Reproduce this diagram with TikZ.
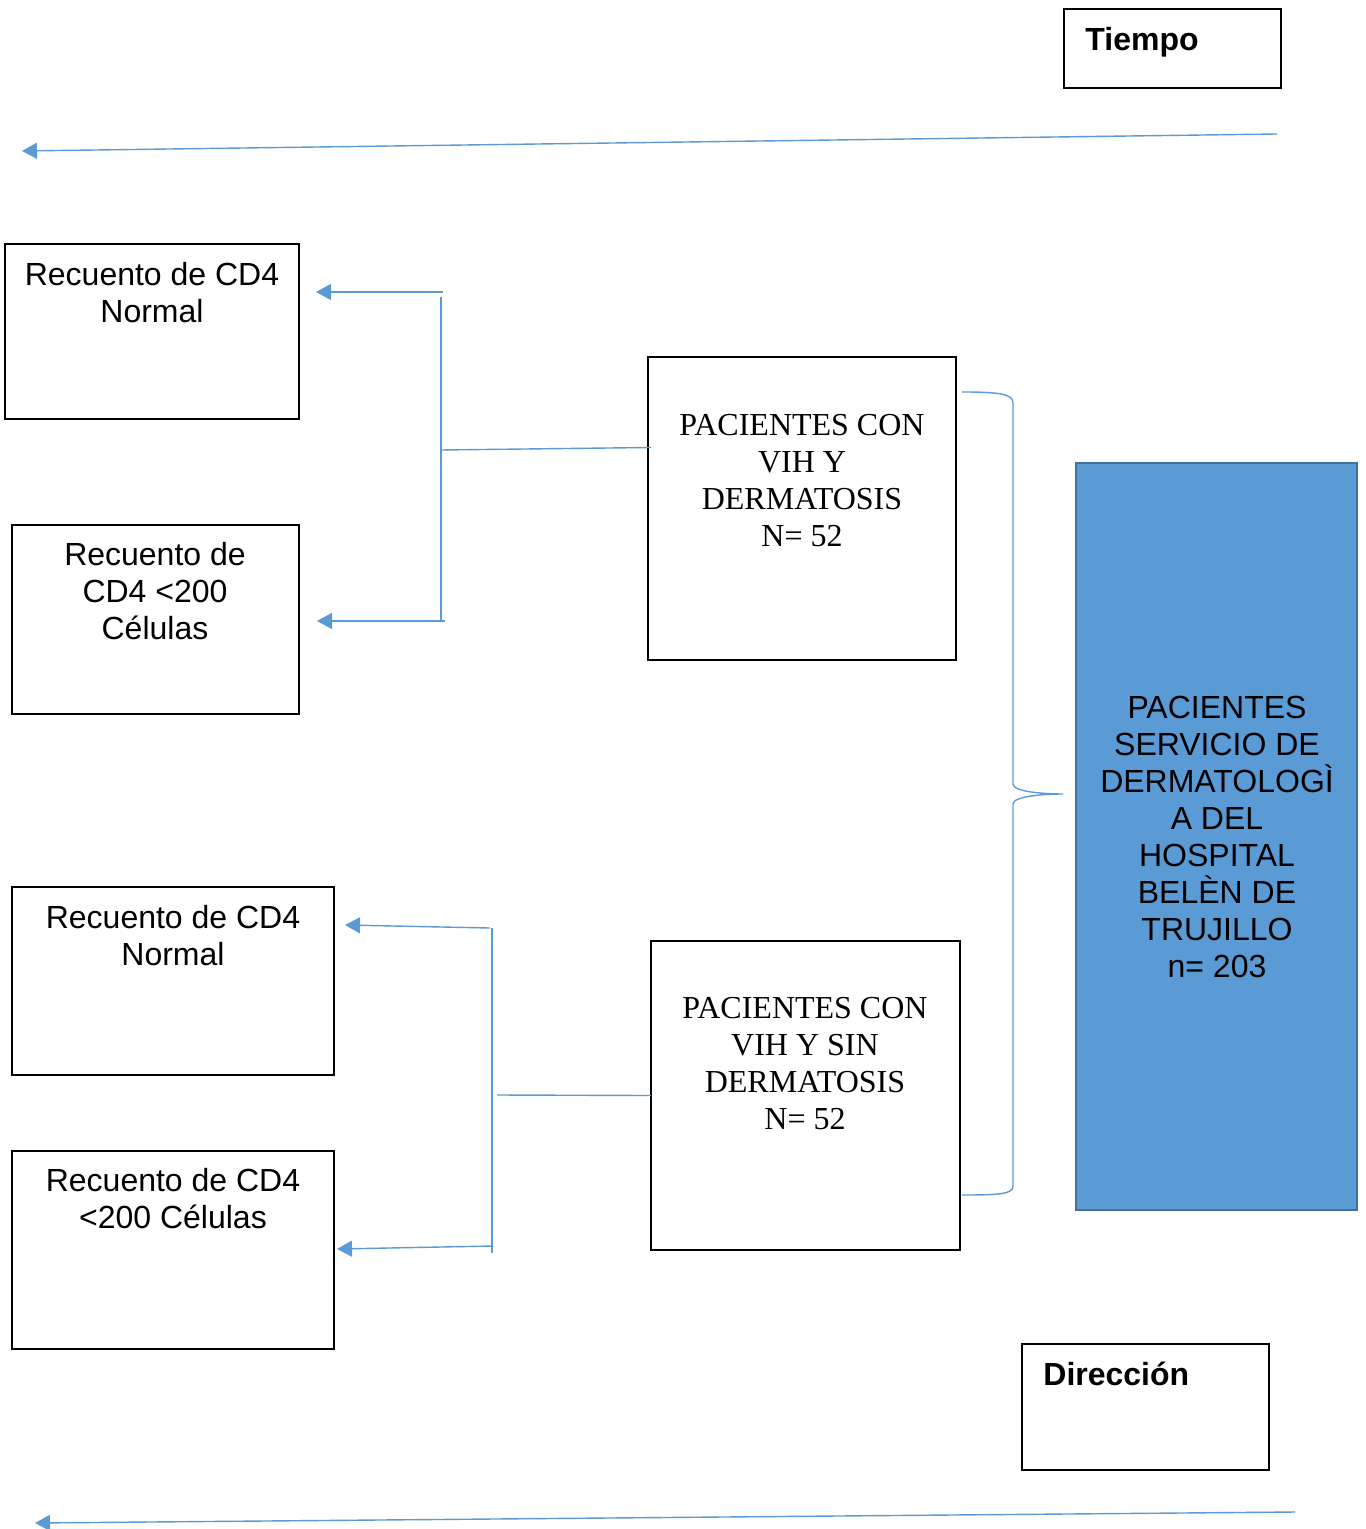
\documentclass[tikz,border=0pt]{standalone}
\usepackage{fontspec}
\setmainfont{Liberation Serif}
\newfontfamily\arialf{Liberation Sans}
\usetikzlibrary{arrows.meta,fit,calc}
\definecolor{lblue}{HTML}{5B9BD5}
\definecolor{dblue}{HTML}{41719C}
\tikzset{
  box/.style={draw=black, line width=0.7pt, inner sep=0pt, outer sep=0pt},
  bluebox/.style={draw=dblue, fill=lblue, line width=1pt, inner sep=0pt, outer sep=0pt},
  atext/.style={font=\arialf\fontsize{16}{18.5}\selectfont, align=center, inner sep=0pt, anchor=north},
  ttext/.style={font=\fontsize{16}{18.5}\selectfont, align=center, inner sep=0pt, anchor=north},
  btext/.style={font=\arialf\bfseries\fontsize{16}{18.5}\selectfont, align=left, inner sep=0pt, anchor=north west},
  conn/.style={draw=lblue, line width=0.7pt},
  arr/.style={conn, -{Triangle[length=7.5pt,width=8pt]}},
}
\begin{document}
\begin{tikzpicture}[x=0.5pt,y=-0.5pt]
\useasboundingbox (0,0) rectangle (1365,1529);

% Tiempo / Direccion boxes
\node[box, fit={(1064,9) (1281,88)}] (tiempo) {};
\node[btext] (tiempot) at (1085,27) {Tiempo};
\node[box, fit={(1022,1344) (1269,1470)}] (direc) {};
\node[btext] (direct) at (1043,1362) {Dirección};

% time arrows
\coordinate (t1) at (1277,134);
\coordinate (t2) at (22,151);
\draw[arr] (t1) -- (t2);
\coordinate (d1) at (1295,1512);
\coordinate (d2) at (35,1523);
\draw[arr] (d1) -- (d2);

% left boxes
\node[box, fit={(5,244) (299,419)}] (a1) {};
\node[atext] (a1t) at (152,262) {Recuento de CD4\\Normal};
\node[box, fit={(12,525) (299,714)}] (a2) {};
\node[atext] (a2t) at (155,542) {Recuento de\\CD4 <200\\Células};
\node[box, fit={(12,887) (334,1075)}] (c1) {};
\node[atext] (c1t) at (173,905) {Recuento de CD4\\Normal};
\node[box, fit={(12,1151) (334,1349)}] (c2) {};
\node[atext] (c2t) at (173,1168) {Recuento de CD4\\<200 Células};

% middle boxes
\node[box, fit={(648,357) (956,660)}] (b1) {};
\node[ttext] (b1t) at (802,414) {PACIENTES CON\\VIH Y\\DERMATOSIS\\N= 52};
\node[box, fit={(651,941) (960,1250)}] (b2) {};
\node[ttext] (b2t) at (805,997) {PACIENTES CON\\VIH Y SIN\\DERMATOSIS\\N= 52};

% blue box
\node[bluebox, fit={(1076,463) (1357,1210)}] (p) {};
\node[atext] (pt) at (1217,696) {PACIENTES\\SERVICIO DE\\DERMATOLOGÌ\\A DEL\\HOSPITAL\\BELÈN DE\\TRUJILLO\\n= 203};

% upper tree
\coordinate (u1) at (443,292);
\coordinate (u2) at (445,621);
\coordinate (uv1) at (441,297);
\coordinate (uv2) at (441,621);
\coordinate (uj) at (441,450);
\draw[conn] (uv1) -- (uv2);
\draw[arr] (u1) -- ($(a1.east |- u1)+(17,0)$);
\draw[arr] (u2) -- ($(a2.east |- u2)+(18,0)$);
\draw[conn] (uj) -- ($(b1.west)+(3,-61)$);

% lower tree
\coordinate (l1) at (490,928);
\coordinate (l2) at (493,1246);
\coordinate (lv1) at (492,928);
\coordinate (lv2) at (492,1253);
\coordinate (lj) at (497,1095);
\draw[conn] (lv1) -- (lv2);
\draw[arr] (l1) -- ($(c1.north east)+(11,38)$);
\draw[arr] (l2) -- ($(c2.north east)+(3,98)$);
\draw[conn] (lj) -- (b2.west);

% brace
\coordinate (bs) at (962,392);
\coordinate (bt) at (1063,794);
\coordinate (be) at (962,1195);
\draw[conn] (bs) .. controls (1000,392) and (1013,394) .. (1013,403)
  -- (1013,784) .. controls (1013,792) and (1045,794) .. (bt)
  .. controls (1045,794) and (1013,796) .. (1013,804)
  -- (1013,1186) .. controls (1013,1194) and (1000,1195) .. (be);
\end{tikzpicture}
\end{document}
